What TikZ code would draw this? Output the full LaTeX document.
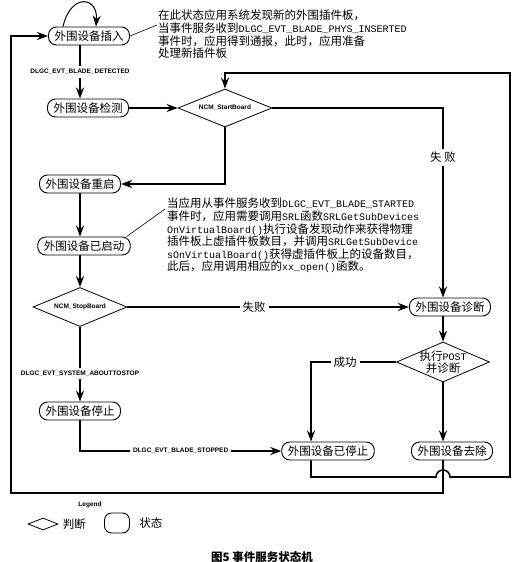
\documentclass[tikz,border=0pt]{standalone}
\usepackage{fontspec}
\newfontfamily\cjk{Noto Sans CJK SC}
\newfontfamily\mono{Liberation Mono}
\newfontfamily\lab{Liberation Sans}
\newcommand\latn[1]{{\mono\fontsize{10}{12}\selectfont #1}}
\usetikzlibrary{calc,shapes.geometric,arrows.meta,positioning}

\begin{document}
\begin{tikzpicture}[x=1pt,y=-1pt, >={Stealth[length=11pt,width=8pt]},
    box/.style={rectangle, rounded corners=8pt, draw, line width=0.9pt,
        font=\cjk\fontsize{11.5}{13}\selectfont, inner xsep=6pt, inner ysep=2pt,
        minimum height=18pt},
    test/.style={diamond, draw, line width=0.8pt, inner sep=0pt, aspect=2.5},
    lbl/.style={fill=white, font=\lab\bfseries\fontsize{6.5}{8}\selectfont, inner sep=3pt},
    clbl/.style={fill=white, font=\cjk\fontsize{11.5}{13}\selectfont, inner sep=3pt},
    link/.style={line width=1.6pt},
    note/.style={font=\cjk\fontsize{11.5}{12.6}\selectfont, align=left, inner sep=0pt}]

    \useasboundingbox[fill=white] (0,0) rectangle (530,562);

    \node[box] (In)   at (89,36)  {外围设备插入};
    \node[box] (Det)  at (88,108) {外围设备检测};
    \node[test, minimum width=94pt, minimum height=38pt,
        font=\lab\bfseries\fontsize{6.5}{8}\selectfont] (Start) at (225,108) {NCM\_StartBoard};
    \node[box] (Rst)  at (80,184) {外围设备重启};
    \node[box] (Up)   at (84,246) {外围设备已启动};
    \node[test, minimum width=94pt, minimum height=39pt,
        font=\lab\bfseries\fontsize{6.5}{8}\selectfont] (Stop) at (80,307) {NCM\_StopBoard};
    \node[box] (Halt) at (80,411) {外围设备停止};
    \node[box] (Diag) at (450,307) {外围设备诊断};
    \node[test, minimum width=93pt, minimum height=40pt,
        label={[font=\cjk\fontsize{11.5}{12}\selectfont, align=center]center:执行\latn{POST}\\并诊断}]
        (Post) at (443,362) {};
    \node[box] (Down) at (328,451) {外围设备已停止};
    \node[box] (Rem)  at (452,451) {外围设备去除};

    \node[note, anchor=north west] (Note1) at (158,10)
        {在此状态应用系统发现新的外围插件板，\\
         当事件服务收到\latn{DLGC\_EVT\_BLADE\_PHYS\_INSERTED}\\
         事件时，应用得到通报，此时，应用准备\\
         处理新插件板};
    \node[note, anchor=north west] (Note2) at (167,198)
        {当应用从事件服务收到\latn{DLGC\_EVT\_BLADE\_STARTED}\\
         事件时，应用需要调用\latn{SRL}函数\latn{SRLGetSubDevices}\\
         \latn{OnVirtualBoard()}执行设备发现动作来获得物理\\
         插件板上虚插件板数目，并调用\latn{SRLGetSubDevice}\\
         \latn{sOnVirtualBoard()}获得虚插件板上的设备数目，\\
         此后，应用调用相应的\latn{xx\_open()}函数。};
    \draw[line width=0.6pt] (In.east) -- ($(Note1.north west)+(-1,15)$);
    \draw[line width=0.6pt] ([xshift=-4pt]Up.north east) -- ($(Note2.north west)+(-2,11)$);

    \draw[->,line width=1pt] ([xshift=-26pt]In.north) .. controls +(8,-34) and +(2,-30) .. ([xshift=7pt]In.north);
    \draw[->,link] ([xshift=-9pt]In.south) -- node[lbl] {DLGC\_EVT\_BLADE\_DETECTED} ([xshift=-8pt]Det.north);
    \draw[->,link] (Det.east) -- (Start.west);
    \draw[->,link] (Start.south) |- (Rst.east);
    \draw[->,link] (Rst) -- (Rst |- Up.north);
    \draw[->,link] (Up.south -| Rst) -- (Stop.north);
    \draw[->,link] (Stop.south) -- node[lbl, pos=0.62] {DLGC\_EVT\_SYSTEM\_ABOUTTOSTOP} (Halt.north);
    \draw[->,link] (Halt.south) |- node[lbl, pos=0.75] {DLGC\_EVT\_BLADE\_STOPPED} (Down.west);
    \draw[->,link] (Stop.east) -- node[clbl, pos=0.45] {失败} (Diag.west);
    \draw[->,link] (Start.east) -| node[clbl, pos=0.63] {失\hspace{3pt}败} (Post |- Diag.north);
    \draw[->,link] (Diag.south -| Post) -- (Post.north);
    \draw[->,link] (Post.south) -- (Post |- Rem.north);
    \draw[->,link] (Post.west) -| node[clbl, pos=0.3] {成功} ([xshift=-17pt]Down.north);

    % back to the start test, hopping over the line from Rem
    \draw[->,link] ([xshift=-17pt]Down.south) |- (436,477)
        arc[start angle=180, end angle=0, radius=7pt] -- (510,477) -- (510,73) -| (Start.north);
    \draw[->,link] (Rem.south -| Post) |- (11,493) |- (In.west);

    % legend
    \node[font=\lab\bfseries\fontsize{6.5}{8}\selectfont] (Leg) at (90,505) {Legend};
    \node[test, minimum width=30pt, minimum height=12pt] (LD) at (43,524) {};
    \node[font=\cjk\fontsize{11.5}{13}\selectfont, right=1pt of LD] (LDt) {判断};
    \node[draw, rounded corners=7pt, line width=0.9pt, minimum width=25pt, minimum height=20pt] (LS) at (117,523) {};
    \node[font=\cjk\fontsize{11.5}{13}\selectfont, right=6pt of LS] (LSt) {状态};

    \node[font=\cjk\bfseries\fontsize{11.5}{13}\selectfont] (Cap) at (262,557) {图5\ 事件服务状态机};
\end{tikzpicture}
\end{document}
